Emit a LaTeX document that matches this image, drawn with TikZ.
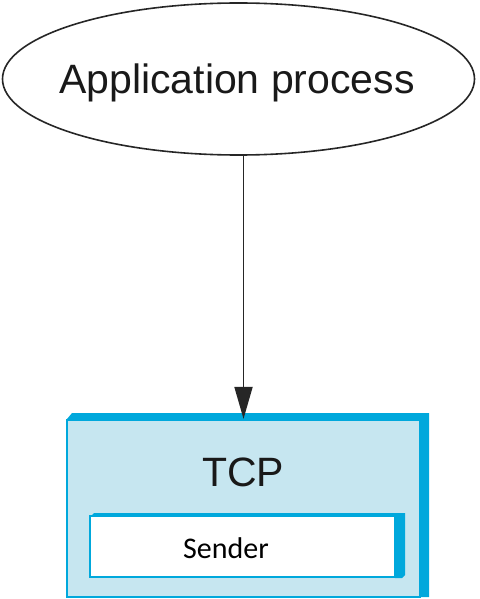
\documentclass[tikz,border=0pt]{standalone}
\usepackage{fontspec}
\setmainfont{Liberation Sans}
\newfontfamily\calib{Carlito}
\usetikzlibrary{shapes.geometric,arrows.meta}
\definecolor{tcpblue}{HTML}{00A8DC}
\definecolor{tcpfill}{HTML}{C6E6F0}
\tikzset{
  appell/.style={ellipse,draw=black!85,line width=1.6pt,minimum width=472pt,minimum height=152pt,inner sep=0pt},
  frontbox/.style={rectangle,draw=tcpblue,line width=2.2pt,inner sep=0pt},
  conn/.style={line width=1.8pt,draw=black!85,-{Triangle[length=32pt,width=18pt]}},
}
\begin{document}
\begin{tikzpicture}[x=1pt,y=-1pt]
\useasboundingbox (0,0) rectangle (479,599);
% application process
\node[appell] (app) at (238.5,79) {};
\node[font=\fontsize{41}{45}\selectfont,text=black!90] (apptxt) at (237,82.5) {Application process};
% TCP box (3D back)
\fill[tcpblue] (67,419) -- (72,413) -- (429,413) -- (429,597) -- (420,597) -- cycle;
\node[frontbox,fill=tcpfill,minimum width=353pt,minimum height=177pt] (tcp) at (243.5,508.5) {};
\node[font=\fontsize{41}{45}\selectfont,text=black!90] (tcptxt) at (243,472) {TCP};
% Sender box
\fill[tcpblue] (90,517) -- (94,513) -- (405,513) -- (405,575) -- (402,578) -- (395,578) -- cycle;
\node[frontbox,fill=white,minimum width=305pt,minimum height=61pt] (snd) at (242.5,546.5) {};
\node[font=\calib\fontsize{30}{33}\selectfont] (sndtxt) at (226,548) {Sender};
% connector
\draw[conn] (app.south -| tcp.north) -- (tcp.north);
\end{tikzpicture}
\end{document}
